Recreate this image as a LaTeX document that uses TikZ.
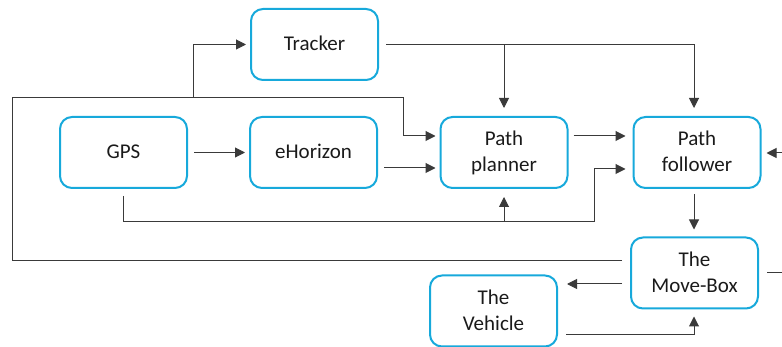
\documentclass[tikz,border=0pt]{standalone}
\usepackage{fontspec}
\setmainfont{Carlito}
\usetikzlibrary{arrows.meta,calc}

\definecolor{boxblue}{HTML}{17A9DB}
\definecolor{wire}{HTML}{3A3A3A}
\definecolor{ink}{HTML}{1A1A1A}

\tikzset{
  block/.style={draw=boxblue, line width=2pt, rounded corners=12pt,
    minimum width=127pt, minimum height=71pt, align=center,
    text=ink, font=\fontsize{21}{26}\selectfont, inner sep=0pt,
    text depth=2pt},
  wireline/.style={draw=wire, line width=1pt},
  arr/.style={wireline, -{Triangle[length=10pt,width=10pt]}},
}

\begin{document}
\begin{tikzpicture}[x=1pt,y=-1pt]
\useasboundingbox (0,0) rectangle (782,347);

% blocks
\node[block] (tracker)  at (314.5,44.5) {Tracker};
\node[block] (gps)      at (123.5,152.5) {GPS};
\node[block] (ehor)     at (313.5,152.5) {eHorizon};
\node[block] (planner)  at (504,152.5)   {Path\\planner};
\node[block] (follower) at (697,152.5)   {Path\\follower};
\node[block] (move)     at (694.5,273)   {The\\Move-Box};
\node[block] (vehicle)  at (493.5,311)   {The\\Vehicle};

% bend points of the routed connectors
\coordinate (loopL)  at (12,261);
\coordinate (loopT)  at (12,98);
\coordinate (trkUp)  at (193,98);
\coordinate (plnIn)  at (403,98);
\coordinate (trkR)   at (694,44.5);
\coordinate (trkP)   at (504,44.5);
\coordinate (gpsDn)  at (123.5,222);
\coordinate (gpsR)   at (594,222);
\coordinate (gpsP)   at (504,222);
\coordinate (vehR)   at (694,335);
\coordinate (edgeF)  at (782,153);
\coordinate (edgeM)  at (782,273);

% GPS -> eHorizon -> planner
\draw[arr] ($(gps.east)+(6,0)$) -- ($(ehor.west)+(-4,0)$);
\draw[arr] ($(ehor.east)+(6,15.5)$) -- ($(planner.west)+(-4,15.5)$);

% Move-Box feedback loop to planner and tracker
\draw[arr] ($(move.west)+(-8,-12)$) -- (loopL) -- (loopT) -- (plnIn)
  -- ($(plnIn)+(0,38)$) -- ($(planner.west)+(-4,-16.5)$);
\draw[arr] (trkUp) -- (trkUp |- tracker.west) -- ($(tracker.west)+(-4,0)$);

% Tracker -> planner and follower
\draw[arr] ($(tracker.east)+(7,0)$) -- (trkR) -- ($(trkR |- follower.north)+(0,-8)$);
\draw[arr] (trkP) -- ($(planner.north)+(0,-8)$);

% planner -> follower
\draw[arr] ($(planner.east)+(5,-16.5)$) -- ($(follower.west)+(-7,-16.5)$);

% GPS -> planner and follower
\draw[arr] ($(gps.south)+(0,7)$) -- (gpsDn) -- (gpsR)
  -- ($(gpsR)+(0,-53)$) -- ($(follower.west)+(-7,16.5)$);
\draw[arr] (gpsP) -- ($(planner.south)+(0,8)$);

% follower -> Move-Box
\draw[arr] ($(follower.south -| trkR)+(0,5)$) -- ($(move.north -| trkR)+(0,-7)$);

% Move-Box <-> Vehicle
\draw[arr] ($(move.west)+(-8,11)$) -- ($(vehicle.east)+(9,-27)$);
\draw[arr] ($(vehicle.east)+(8,24)$) -- (vehR) -- ($(move.south -| vehR)+(0,7)$);

% connectors leaving to the right
\draw[arr] (edgeF) -- ($(follower.east)+(5,0.5)$);
\draw[wireline] ($(move.east)+(8,0)$) -- (edgeM);
\end{tikzpicture}
\end{document}
